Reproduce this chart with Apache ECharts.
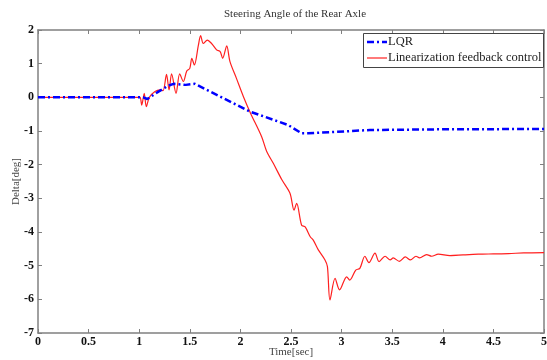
<!DOCTYPE html>
<html>
<head>
<meta charset="utf-8">
<script src="https://cdn.jsdelivr.net/npm/echarts@6/dist/echarts.min.js"></script>
<style>html,body{margin:0;padding:0;background:#fff}#c{width:547px;height:360px}</style>
</head>
<body>
<div id="c"></div>
<script>
var titleText = 'Steering Angle of the Rear Axle';
var xName = 'Time[sec]';
var yName = 'Delta[deg]';
var seriesNames = ['LQR', 'Linearization feedback control'];

var lqrT = [0, 1.04, 1.08, 1.19, 1.29, 1.34, 1.46, 1.55, 1.80, 2.10, 2.47, 2.605, 2.67, 3.28, 4.0, 5.0];
var lqrV = [0, 0, -0.05, 0.17, 0.35, 0.40, 0.37, 0.40, 0.02, -0.43, -0.82, -1.07, -1.07, -0.97, -0.95, -0.94];

var lfcT = [0, 1.0, 1.01, 1.025, 1.05, 1.07, 1.10, 1.156, 1.205, 1.235, 1.27, 1.295, 1.32, 1.364, 1.40, 1.436, 1.47, 1.50, 1.52, 1.545, 1.585, 1.607, 1.633, 1.673, 1.715, 1.765, 1.80, 1.825, 1.865, 1.897, 1.96, 2.03, 2.10, 2.21, 2.26, 2.325, 2.41, 2.49, 2.53, 2.556, 2.605, 2.64, 2.69, 2.72, 2.77, 2.836, 2.86, 2.885, 2.935, 2.98, 3.05, 3.08, 3.14, 3.18, 3.23, 3.27, 3.33, 3.37, 3.43, 3.48, 3.51, 3.57, 3.63, 3.68, 3.735, 3.77, 3.84, 3.89, 3.955, 4.07, 4.2, 4.35, 4.5, 4.65, 4.8, 5.0];
var lfcV = [0, 0, 0, -0.23, 0.12, -0.28, 0, 0.17, 0.22, 0.2, 0.68, 0.22, 0.7, 0.12, 0.7, 0.47, 0.78, 0.86, 1.16, 0.96, 1.55, 1.83, 1.6, 1.70, 1.6, 1.41, 1.36, 1.16, 1.53, 1.06, 0.57, 0.02, -0.47, -1.17, -1.61, -1.96, -2.45, -2.85, -3.35, -3.15, -3.8, -3.85, -4.14, -4.24, -4.53, -4.83, -5.03, -6.02, -5.38, -5.72, -5.33, -5.43, -5.13, -5.08, -4.72, -4.91, -4.63, -4.88, -4.72, -4.83, -4.77, -4.87, -4.74, -4.83, -4.72, -4.77, -4.67, -4.72, -4.66, -4.70, -4.68, -4.66, -4.65, -4.64, -4.62, -4.61];

function pairs(t, v) { return t.map(function (x, i) { return [x, v[i]]; }); }

var axisCol = '#808080';
var font = '"Liberation Serif", "DejaVu Serif", serif';
var blueStyle = { stroke: '#0000ff', lineWidth: 2.5, lineDash: [7, 3, 2, 3] };
var redStyle = { stroke: '#ff2020', lineWidth: 1.2 };

var chart = echarts.init(document.getElementById('c'));
chart.setOption({
  animation: false,
  textStyle: { fontFamily: font },
  title: {
    text: titleText, left: 290, top: 4, textAlign: 'center',
    textStyle: { fontFamily: font, fontSize: 11, fontWeight: 'normal', color: '#333' }
  },
  grid: { left: 38, right: 3, top: 30, bottom: 27, containLabel: false, outerBoundsMode: 'none' },
  graphic: [
    { type: 'rect', left: 363, top: 33, z: 100, shape: { width: 180, height: 34 },
      style: { fill: '#fff', stroke: '#444', lineWidth: 1 } },
    { type: 'line', z: 101, shape: { x1: 367, y1: 42, x2: 387, y2: 42 }, style: blueStyle },
    { type: 'text', z: 101, x: 388, y: 42, style: { text: seriesNames[0], fontFamily: font, fontSize: 12.5, fill: '#222', verticalAlign: 'middle' } },
    { type: 'line', z: 101, shape: { x1: 367, y1: 58, x2: 387, y2: 58 }, style: redStyle },
    { type: 'text', z: 101, x: 388, y: 58, style: { text: seriesNames[1], fontFamily: font, fontSize: 12.5, fill: '#222', verticalAlign: 'middle' } }
  ],
  xAxis: [{
    type: 'value', min: 0, max: 5, interval: 0.5,
    name: xName, nameLocation: 'middle', nameGap: 14, nameMoveOverlap: false,
    nameTextStyle: { fontFamily: font, fontSize: 11, color: '#444' },
    axisLine: { onZero: false, lineStyle: { color: axisCol, width: 1.5 } },
    axisTick: { inside: true, length: 4, lineStyle: { color: axisCol } },
    axisLabel: { fontFamily: font, fontSize: 12, fontWeight: 'bold', color: '#111', margin: 3 },
    splitLine: { show: false }
  }, {
    type: 'value', min: 0, max: 5, interval: 0.5, position: 'top',
    axisLine: { onZero: false, lineStyle: { color: axisCol, width: 1.5 } },
    axisTick: { inside: true, length: 4, lineStyle: { color: axisCol } },
    axisLabel: { show: false }, splitLine: { show: false }
  }],
  yAxis: [{
    type: 'value', min: -7, max: 2, interval: 1,
    name: yName, nameLocation: 'middle', nameGap: 16, nameMoveOverlap: false,
    nameTextStyle: { fontFamily: font, fontSize: 11, color: '#444' },
    axisLine: { show: true, onZero: false, lineStyle: { color: axisCol, width: 1.5 } },
    axisTick: { show: true, inside: true, length: 4, lineStyle: { color: axisCol } },
    axisLabel: { fontFamily: font, fontSize: 12, fontWeight: 'bold', color: '#111', margin: 4 },
    splitLine: { show: false }
  }, {
    type: 'value', min: -7, max: 2, interval: 1, position: 'right',
    axisLine: { show: true, onZero: false, lineStyle: { color: axisCol, width: 1.5 } },
    axisTick: { show: true, inside: true, length: 4, lineStyle: { color: axisCol } },
    axisLabel: { show: false }, splitLine: { show: false }
  }],
  series: [{
    name: seriesNames[1], type: 'line', showSymbol: false, symbol: 'none',
    data: pairs(lfcT, lfcV), smooth: 0.3,
    lineStyle: { color: '#ff2020', width: 1.2 }, itemStyle: { color: '#ff2020' }
  }, {
    name: seriesNames[0], type: 'line', showSymbol: false, symbol: 'none',
    data: pairs(lqrT, lqrV), z: 3,
    lineStyle: { color: '#0000ff', width: 2.5, type: [7, 3, 2, 3] }, itemStyle: { color: '#0000ff' }
  }]
});
</script>
</body>
</html>
